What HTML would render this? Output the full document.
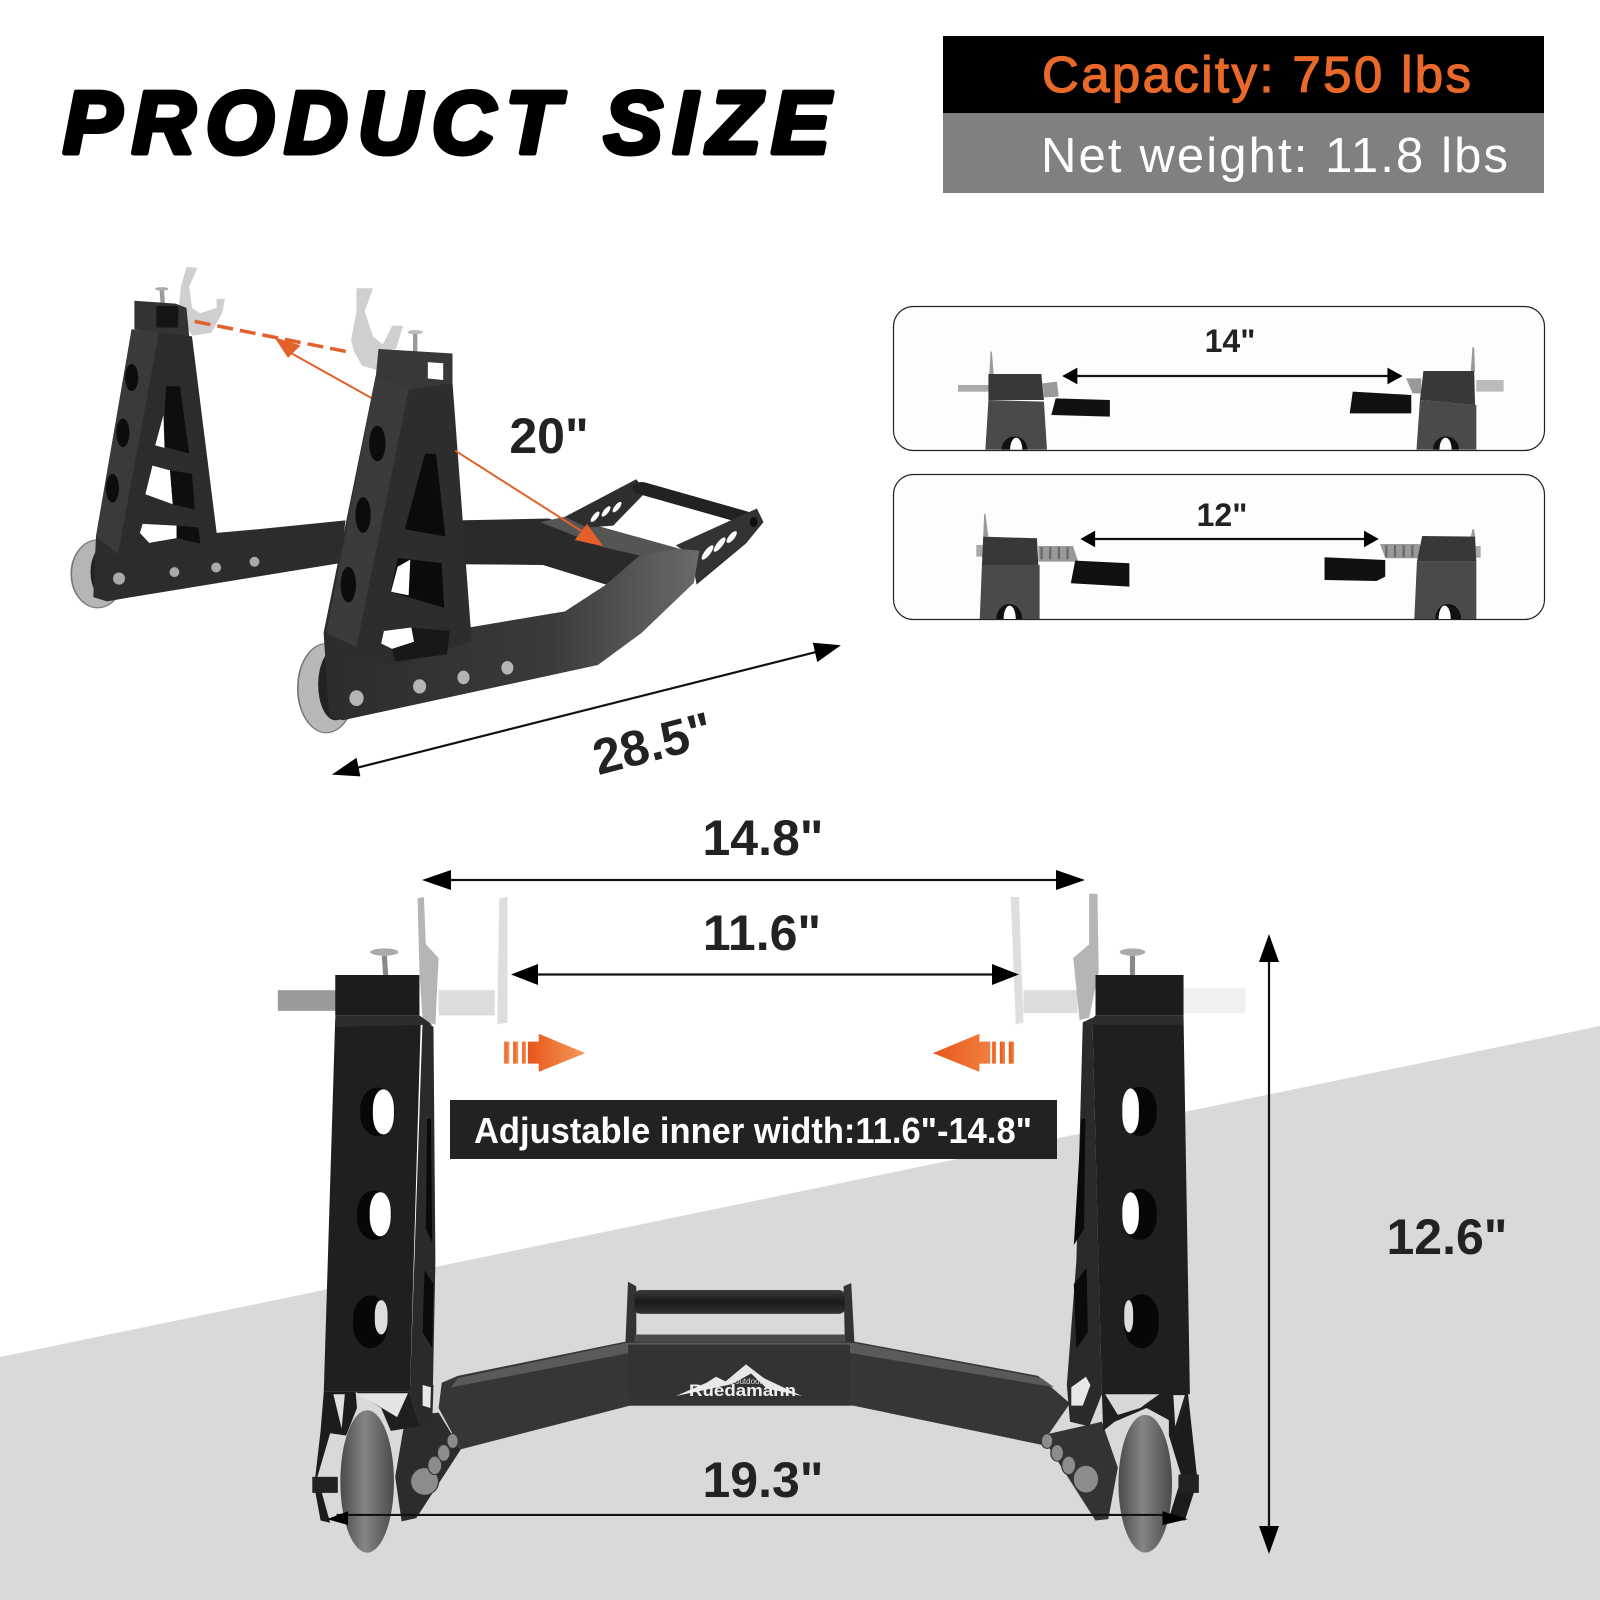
<!DOCTYPE html>
<html><head><meta charset="utf-8"><style>
html,body{margin:0;padding:0;background:#fff}
svg{display:block}
text{font-family:"Liberation Sans",Arial,sans-serif}
.b{font-weight:bold;fill:#222;text-anchor:middle;font-size:50px}
.l{fill:none;stroke:#111;stroke-width:2.2;vector-effect:non-scaling-stroke}
.o{fill:none;stroke:#e2602a;stroke-width:2;vector-effect:non-scaling-stroke}
</style></head><body>
<svg width="1600" height="1600" viewBox="0 0 1600 1600" xmlns="http://www.w3.org/2000/svg">
<defs>
<linearGradient id="og" x1="0" x2="1" y1="0" y2="0"><stop offset="0" stop-color="#e9561a"/><stop offset="1" stop-color="#f49a5c"/></linearGradient>
<linearGradient id="og2" x1="1" x2="0" y1="0" y2="0"><stop offset="0" stop-color="#f08040"/><stop offset="1" stop-color="#e9561a"/></linearGradient>
<linearGradient id="arm" x1="0" x2="1" y1="0" y2="0"><stop offset="0" stop-color="#2c2c2c"/><stop offset=".6" stop-color="#3a3a3a"/><stop offset="1" stop-color="#6a6a6a"/></linearGradient>
<linearGradient id="bar" x1="0" x2="0" y1="0" y2="1"><stop offset="0" stop-color="#3a3a3a"/><stop offset=".5" stop-color="#1a1a1a"/><stop offset="1" stop-color="#333"/></linearGradient>
<linearGradient id="wh" x1="0" x2="1" y1="0" y2="0"><stop offset="0" stop-color="#4a4a4a"/><stop offset=".45" stop-color="#858585"/><stop offset="1" stop-color="#4a4a4a"/></linearGradient>
</defs>
<rect width="1600" height="1600" fill="#fff"/>
<polygon points="0,1357 1600,1026 1600,1600 0,1600" fill="#d9d9d9"/>

<!-- header -->
<text x="63" y="153" font-size="88" font-weight="bold" font-style="italic" fill="#000" stroke="#000" stroke-width="5" stroke-linejoin="round" textLength="767" lengthAdjust="spacing">PRODUCT SIZE</text>
<rect x="943" y="36" width="601" height="77" fill="#000"/>
<rect x="943" y="113" width="601" height="80" fill="#808080"/>
<text x="1042" y="92" font-size="51" fill="#e8692a" stroke="#e8692a" stroke-width="1.2" textLength="429" lengthAdjust="spacing">Capacity: 750 lbs</text>
<text x="1041" y="172" font-size="49" fill="#fff" textLength="467" lengthAdjust="spacing">Net weight: 11.8 lbs</text>

<!-- product view 1 -->
<g transform="translate(0 240) scale(.5485 .3571)">
 <!-- far wheel -->
 <ellipse cx="178" cy="935" rx="48" ry="95" fill="#b5b5b5" stroke="#777" stroke-width="3"/>
 <ellipse cx="195" cy="930" rx="30" ry="78" fill="#222"/>
 <!-- far fork -->
 <polygon points="340,75 360,78 345,130 350,190 365,205 395,190 395,165 410,165 405,205 385,260 350,268 325,200 330,130" fill="#cfcfcf"/>
 <line x1="295" y1="140" x2="297" y2="185" stroke="#999" stroke-width="8"/><ellipse cx="295" cy="137" rx="12" ry="5" fill="#aaa"/>
 <!-- far stand -->
 <polygon points="245,170 320,178 340,190 345,270 290,262 245,250" fill="#333"/>
 <rect x="285" y="185" width="40" height="60" fill="#151515"/>
 <polygon points="240,250 350,270 395,820 470,810 630,785 620,905 240,1000 195,1012 170,1000 175,830" fill="#2c2c2c"/>
 <polygon points="240,250 290,258 215,880 175,830" fill="#3a3a3a"/>
 <polygon points="303,410 328,410 345,598 296,578" fill="#0e0e0e"/>
 <polygon points="298,490 283,575 300,582" fill="#fff"/>
 <polygon points="278,632 310,645 315,740 265,712" fill="#fff"/>
 <polygon points="310,645 350,655 355,755 315,740" fill="#0e0e0e"/>
 <polygon points="260,795 322,800 322,835 272,848 255,820" fill="#fff"/>
 <polygon points="322,800 362,805 365,850 322,835" fill="#0e0e0e"/>
 <ellipse cx="240" cy="385" rx="12" ry="38" fill="#0c0c0c"/>
 <ellipse cx="224" cy="540" rx="12" ry="40" fill="#0c0c0c"/>
 <ellipse cx="205" cy="695" rx="12" ry="40" fill="#0c0c0c"/>
 <g fill="#aaa"><ellipse cx="217" cy="948" rx="11" ry="17"/><ellipse cx="318" cy="930" rx="9" ry="14"/><ellipse cx="394" cy="917" rx="9" ry="14"/><ellipse cx="464" cy="901" rx="9" ry="14"/></g>
 <!-- rear cross arm -->
 <polygon points="835,785 1000,780 1100,825 1240,865 1170,885 1105,965 990,910 835,908" fill="#2a2a2a"/>
 <polygon points="985,790 1030,775 1240,865 1170,885 1100,860" fill="#555"/>
 <!-- handle -->
 <polygon points="1030,775 1160,670 1178,705 1118,800 1070,805" fill="#2e2e2e"/>
 <line x1="1170" y1="695" x2="1365" y2="780" stroke="url(#bar)" stroke-width="34" stroke-linecap="round"/>
 <line x1="1170" y1="695" x2="1365" y2="780" stroke="#222" stroke-width="34" stroke-linecap="round"/>
 <polygon points="1232,855 1380,752 1392,790 1360,850 1270,965 1260,885" fill="#333"/>
 <g fill="#fff"><ellipse cx="1085" cy="775" rx="5" ry="16" transform="rotate(25 1085 775)"/><ellipse cx="1105" cy="760" rx="5" ry="16" transform="rotate(25 1105 760)"/><ellipse cx="1125" cy="748" rx="5" ry="16" transform="rotate(25 1125 748)"/><ellipse cx="1290" cy="875" rx="6" ry="22" transform="rotate(25 1290 875)"/><ellipse cx="1312" cy="853" rx="6" ry="22" transform="rotate(25 1312 853)"/><ellipse cx="1334" cy="832" rx="6" ry="18" transform="rotate(25 1334 832)"/></g>
 <ellipse cx="1374" cy="790" rx="7" ry="14" fill="#0c0c0c"/>
 <!-- near fork -->
 <polygon points="650,135 680,135 665,200 680,270 698,292 715,240 735,240 722,305 690,312 690,365 660,352 645,310 640,280 650,200" fill="#cfcfcf"/>
 <line x1="757" y1="262" x2="757" y2="315" stroke="#999" stroke-width="8"/><ellipse cx="757" cy="258" rx="14" ry="6" fill="#bbb"/>
 <!-- orange behind stand -->
 <line class="o" x1="355" y1="228" x2="640" y2="315" stroke-dasharray="16 7" style="stroke-width:3.5"/>
 <line class="o" x1="525" y1="312" x2="678" y2="443"/>
 <polygon points="500,272 548,295 525,330" fill="#e2602a"/>
 <!-- near wheel -->
 <ellipse cx="595" cy="1255" rx="52" ry="125" fill="#b8b8b8" stroke="#777" stroke-width="3"/>
 <ellipse cx="612" cy="1245" rx="32" ry="100" fill="#222"/>
 <!-- near stand and arm -->
 <polygon points="855,1085 1030,1040 1105,965 1165,885 1235,865 1275,870 1265,960 1170,1100 1090,1190 625,1345 600,1335 590,1100" fill="url(#arm)"/>
 <polygon points="690,305 825,318 825,400 745,425 685,385" fill="#383838"/>
 <polygon points="780,342 808,345 808,392 780,388" fill="#fff"/>
 <polygon points="685,380 745,420 825,400 860,1125 725,1190 640,1180 590,1100" fill="#2d2d2d"/>
 <polygon points="685,380 745,420 650,1140 595,1100" fill="#3b3b3b"/>
 <polygon points="775,598 795,600 812,830 738,810" fill="#0b0b0b"/>
 <polygon points="725,890 805,905 810,1030 712,985" fill="#0b0b0b"/>
 <polygon points="725,915 748,895 745,995 713,985" fill="#fff"/>
 <polygon points="700,1095 750,1085 755,1125 715,1145 695,1130" fill="#fff"/>
 <polygon points="750,1085 820,1095 815,1160 720,1180 715,1145 755,1125" fill="#181818"/>
 <ellipse cx="688" cy="570" rx="15" ry="50" fill="#0c0c0c"/>
 <ellipse cx="662" cy="770" rx="14" ry="50" fill="#0c0c0c"/>
 <ellipse cx="635" cy="965" rx="14" ry="50" fill="#0c0c0c"/>
 <g fill="#b5b5b5"><ellipse cx="650" cy="1283" rx="13" ry="22"/><ellipse cx="765" cy="1250" rx="12" ry="20"/><ellipse cx="845" cy="1225" rx="11" ry="19"/><ellipse cx="925" cy="1198" rx="11" ry="19"/></g>
 <!-- orange front -->
 <line class="o" x1="830" y1="590" x2="1060" y2="815"/>
 <polygon points="1100,858 1070,795 1048,840" fill="#e2602a"/>
 <!-- 28.5 arrow -->
 <line class="l" x1="630" y1="1486" x2="1510" y2="1145"/>
 <polygon points="605,1497 650,1450 657,1502" fill="#000"/>
 <polygon points="1533,1135 1482,1128 1490,1182" fill="#000"/>
</g>
<text class="b" x="549" y="453">20"</text>
<text class="b" transform="translate(657 760) rotate(-14.5)" x="0" y="0">28.5"</text>

<!-- panels -->
<rect x="893.5" y="306.5" width="651" height="144" rx="20" fill="#fdfdfd" stroke="#222" stroke-width="1.2"/>
<rect x="893.5" y="474.5" width="651" height="145" rx="20" fill="#fdfdfd" stroke="#222" stroke-width="1.2"/>
<g transform="translate(880 290) scale(.4337 .3333)">
 <rect x="180" y="285" width="72" height="20" fill="#aaa"/>
 <polygon points="255,185 258,185 262,252 252,252" fill="#999"/>
 <polygon points="375,280 408,275 412,320 378,322" fill="#999"/>
 <polygon points="250,252 372,252 378,330 250,330" fill="#383838"/>
 <polygon points="250,330 378,335 385,479 243,479" fill="#4a4a4a"/>
 <path d="M280,479 A30,40 0 0 1 340,479Z" fill="#111"/><path d="M300,479 A14,36 0 0 1 328,479Z" fill="#fff"/>
 <polygon points="405,325 530,330 530,380 395,375" fill="#111"/>
 <rect x="1375" y="270" width="63" height="35" fill="#bbb"/>
 <polygon points="1366,172 1370,172 1372,245 1362,245" fill="#999"/>
 <polygon points="1213,265 1248,265 1248,310 1228,310" fill="#999"/>
 <polygon points="1253,243 1370,243 1372,345 1245,330" fill="#383838"/>
 <polygon points="1245,330 1375,345 1375,479 1237,479" fill="#4a4a4a"/>
 <path d="M1275,479 A30,40 0 0 1 1335,479Z" fill="#111"/><path d="M1290,479 A14,36 0 0 1 1318,479Z" fill="#fff"/>
 <polygon points="1090,305 1225,315 1225,370 1083,370" fill="#111"/>
 <line class="l" x1="440" y1="258" x2="1185" y2="258"/>
 <polygon points="420,258 455,233 455,283" fill="#000"/>
 <polygon points="1205,258 1170,233 1170,283" fill="#000"/>

 <rect x="222" y="765" width="18" height="35" fill="#aaa"/>
 <polygon points="240,672 243,672 250,740 238,740" fill="#999"/>
 <polygon points="365,768 445,768 457,815 365,815" fill="#999"/>
 <line x1="370" y1="790" x2="450" y2="790" stroke="#666" stroke-width="36" stroke-dasharray="5 15"/>
 <polygon points="238,740 362,745 365,825 235,825" fill="#383838"/>
 <polygon points="235,825 368,825 368,987 230,987" fill="#4a4a4a"/>
 <path d="M268,987 A30,45 0 0 1 328,987Z" fill="#111"/><path d="M285,987 A14,40 0 0 1 313,987Z" fill="#fff"/>
 <polygon points="450,812 575,820 575,890 440,880" fill="#111"/>
 <rect x="1373" y="768" width="12" height="35" fill="#aaa"/>
 <polygon points="1366,718 1370,718 1372,742 1362,742" fill="#999"/>
 <polygon points="1153,762 1245,762 1245,805 1165,805" fill="#999"/>
 <line x1="1165" y1="784" x2="1243" y2="784" stroke="#666" stroke-width="36" stroke-dasharray="5 15"/>
 <polygon points="1250,738 1372,740 1375,815 1238,815" fill="#383838"/>
 <polygon points="1238,815 1375,815 1375,987 1232,987" fill="#4a4a4a"/>
 <path d="M1280,987 A30,45 0 0 1 1340,987Z" fill="#111"/><path d="M1288,987 A14,40 0 0 1 1316,987Z" fill="#fff"/>
 <polygon points="1025,802 1165,810 1165,860 1145,873 1025,870" fill="#111"/>
 <line class="l" x1="482" y1="747" x2="1130" y2="747"/>
 <polygon points="462,747 496,722 496,772" fill="#000"/>
 <polygon points="1150,747 1116,722 1116,772" fill="#000"/>
</g>
<text class="b" x="1230" y="352" style="font-size:32px">14"</text>
<text class="b" x="1222" y="526" style="font-size:32px">12"</text>

<!-- front view -->
<g transform="translate(260 880) scale(.6378 .4591)">
 <!-- shafts and plates -->
 <rect x="28" y="240" width="92" height="45" fill="#9a9a9a"/>
 <rect x="280" y="240" width="88" height="55" fill="#dcdcdc"/>
 <polygon points="375,40 388,37 388,310 372,315" fill="#dedede"/>
 <polygon points="247,40 257,37 260,140 280,170 275,315 255,305 250,200" fill="#b5b5b5"/>
 <rect x="1197" y="240" width="85" height="50" fill="#dcdcdc"/>
 <polygon points="1177,37 1190,37 1197,310 1185,315" fill="#dedede"/>
 <polygon points="1300,30 1313,30 1315,200 1300,300 1285,305 1275,170 1300,140" fill="#b5b5b5"/>
 <rect x="1448" y="235" width="97" height="55" fill="#f0f0f0"/>
 <line x1="195" y1="165" x2="197" y2="207" stroke="#888" stroke-width="8"/><ellipse cx="195" cy="157" rx="22" ry="8" fill="#aaa"/>
 <line x1="1368" y1="165" x2="1368" y2="207" stroke="#888" stroke-width="8"/><ellipse cx="1368" cy="157" rx="20" ry="8" fill="#aaa"/>
 <!-- cross member -->
 <polygon points="285,1095 310,1080 575,1005 930,1005 1220,1080 1270,1140 1225,1230 930,1145 580,1145 315,1240 280,1150" fill="#363636"/>
 <polygon points="310,1085 575,1008 930,1008 1225,1085 1245,1105 925,1030 580,1030 300,1105" fill="#5a5a5a"/>
 <polygon points="577,1012 925,1012 925,1145 580,1145" fill="#333"/>
 <!-- handle -->
 <polygon points="577,875 590,885 590,1008 573,1008" fill="#333"/>
 <polygon points="927,878 915,885 917,1008 932,1008" fill="#333"/>
 <rect x="587" y="893" width="330" height="52" rx="10" fill="url(#bar)"/>
 <rect x="587" y="990" width="330" height="16" fill="#4a4a4a"/>
 <!-- logo -->
 <polygon points="652,1124 700,1095 715,1082 730,1092 762,1055 790,1085 820,1105 850,1124 795,1108 770,1075 740,1098 700,1110" fill="#e8e8e8"/>
 <!-- left stand -->
 <ellipse cx="168" cy="1310" rx="42" ry="155" fill="url(#wh)"/>
 <polygon points="100,1115 150,1115 152,1150 135,1210 110,1205 90,1300 110,1400 95,1395 85,1320 95,1200" fill="#1c1c1c"/>
 <rect x="82" y="1300" width="40" height="35" fill="#222"/>
 <polygon points="228,1170 280,1160 315,1240 245,1390 222,1397 212,1300" fill="#2c2c2c"/>
 <polygon points="255,305 272,320 275,830 270,1180 250,1190 235,1115" fill="#2a2a2a"/>
 <polygon points="118,300 252,310 235,1115 100,1115" fill="#1f1f1f"/>
 <polygon points="235,1115 250,1190 205,1200 190,1150 150,1115" fill="#1f1f1f"/>
 <polygon points="150,1118 232,1118 215,1170 185,1145" fill="#e4e4e4"/>
 <polygon points="115,1120 133,1120 128,1195" fill="#e0e0e0"/>
 <polygon points="118,207 250,207 250,295 118,295" fill="#1c1c1c"/>
 <polygon points="118,295 250,295 270,315 120,320" fill="#2d2d2d"/>
 <polygon points="262,520 268,520 270,790 260,760" fill="#0a0a0a"/>
 <polygon points="258,850 272,880 270,1020 255,985" fill="#0a0a0a"/>
 <polygon points="250,1090 272,1100 270,1185 250,1195" fill="#2a2a2a"/>
 <polygon points="255,1100 268,1105 267,1150 255,1145" fill="#e8e8e8"/>
 <rect x="157" y="452" width="54" height="106" rx="27" ry="48" fill="#070707"/><rect x="177" y="456" width="33" height="98" rx="16" ry="42" fill="#fff"/>
 <rect x="152" y="676" width="54" height="108" rx="27" ry="48" fill="#070707"/><rect x="172" y="680" width="33" height="96" rx="16" ry="42" fill="#fff"/>
 <rect x="146" y="905" width="54" height="115" rx="27" ry="50" fill="#070707"/><rect x="180" y="915" width="20" height="75" rx="10" ry="30" fill="#ddd"/>
 <g fill="#8c8c8c" stroke="#333" stroke-width="2"><ellipse cx="258" cy="1310" rx="22" ry="30"/><ellipse cx="274" cy="1275" rx="11" ry="20"/><ellipse cx="288" cy="1248" rx="10" ry="18"/><ellipse cx="302" cy="1222" rx="9" ry="16"/></g>
 <!-- right stand -->
 <ellipse cx="1388" cy="1315" rx="42" ry="150" fill="url(#wh)"/>
 <polygon points="1440,1120 1455,1120 1470,1310 1450,1395 1425,1390 1445,1300 1425,1210 1425,1160" fill="#1c1c1c"/>
 <rect x="1440" y="1295" width="32" height="40" fill="#222"/>
 <polygon points="1225,1210 1320,1180 1345,1280 1330,1392 1310,1395" fill="#333"/>
 <polygon points="1290,310 1305,300 1320,1120 1300,1190 1270,1180 1265,1100 1280,830" fill="#2a2a2a"/>
 <polygon points="1305,300 1448,300 1458,1120 1320,1120" fill="#1f1f1f"/>
 <polygon points="1320,1118 1455,1118 1440,1200 1430,1180 1390,1150 1340,1180 1322,1200" fill="#1f1f1f"/>
 <polygon points="1325,1120 1410,1120 1380,1150 1345,1165" fill="#d8d8d8"/>
 <polygon points="1432,1122 1450,1122 1435,1190" fill="#e0e0e0"/>
 <polygon points="1310,207 1448,207 1448,295 1310,295" fill="#1c1c1c"/>
 <polygon points="1310,295 1448,295 1448,315 1295,315" fill="#2d2d2d"/>
 <polygon points="1288,520 1294,520 1292,760 1276,795" fill="#0a0a0a"/>
 <polygon points="1296,845 1298,985 1280,1020 1276,880" fill="#0a0a0a"/>
 <polygon points="1295,1082 1302,1100 1290,1145 1272,1145 1272,1105" fill="#e8e8e8"/>
 <rect x="1352" y="450" width="54" height="108" rx="27" ry="48" fill="#070707"/><rect x="1352" y="454" width="26" height="98" rx="13" ry="40" fill="#fff"/>
 <rect x="1352" y="672" width="54" height="112" rx="27" ry="48" fill="#070707"/><rect x="1352" y="680" width="26" height="92" rx="13" ry="40" fill="#fff"/>
 <rect x="1355" y="902" width="54" height="118" rx="27" ry="50" fill="#070707"/><rect x="1355" y="915" width="14" height="70" rx="7" ry="28" fill="#ddd"/>
 <g fill="#8c8c8c" stroke="#333" stroke-width="2"><ellipse cx="1234" cy="1222" rx="9" ry="16"/><ellipse cx="1250" cy="1248" rx="10" ry="18"/><ellipse cx="1268" cy="1275" rx="11" ry="20"/><ellipse cx="1295" cy="1305" rx="20" ry="30"/></g>
 <!-- orange arrows -->
 <g fill="url(#og)"><rect x="383" y="352" width="8" height="48"/><rect x="397" y="352" width="8" height="48"/><rect x="411" y="352" width="6" height="48"/>
 <polygon points="437,335 510,377 437,418 437,400 420,400 420,352 437,352"/></g>
 <g fill="url(#og2)"><rect x="1174" y="352" width="8" height="48"/><rect x="1160" y="352" width="8" height="48"/><rect x="1148" y="352" width="6" height="48"/>
 <polygon points="1055,377 1128,335 1128,352 1145,352 1145,400 1128,400 1128,418"/></g>
 <!-- 19.3 arrow -->
 <line class="l" x1="120" y1="1383" x2="1440" y2="1383"/>
 <polygon points="105,1392 138,1375 138,1405" fill="#000"/>
 <polygon points="1455,1392 1415,1375 1415,1405" fill="#000"/>
</g>
<text x="689" y="1396" font-size="17" font-weight="bold" fill="#eee" textLength="107" lengthAdjust="spacingAndGlyphs">Ruedamann</text>
<text x="735" y="1384" font-size="8" fill="#ddd">outdoor</text>

<!-- top arrows -->
<line class="l" x1="445" y1="880" x2="1062" y2="880"/>
<polygon points="422,880 451,870 451,890" fill="#000"/>
<polygon points="1085,880 1056,870 1056,890" fill="#000"/>
<line class="l" x1="530" y1="974.5" x2="1000" y2="974.5"/>
<polygon points="511,974.5 538,964 538,985" fill="#000"/>
<polygon points="1019,974.5 992,964 992,985" fill="#000"/>
<line class="l" x1="1269" y1="955" x2="1269" y2="1535"/>
<polygon points="1269,934 1259,962 1279,962" fill="#000"/>
<polygon points="1269,1554 1259,1526 1279,1526" fill="#000"/>

<text class="b" x="763" y="855">14.8"</text>
<text class="b" x="762" y="950">11.6"</text>
<text class="b" x="763" y="1497">19.3"</text>
<text class="b" x="1447" y="1254">12.6"</text>

<rect x="450" y="1100" width="607" height="59" fill="#222"/>
<text x="474" y="1143" font-size="36" font-weight="bold" fill="#fff" textLength="558" lengthAdjust="spacingAndGlyphs">Adjustable inner width:11.6"-14.8"</text>
</svg>
</body></html>
